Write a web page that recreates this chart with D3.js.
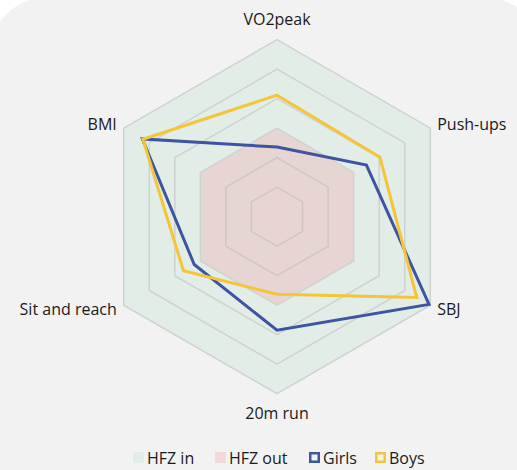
<!DOCTYPE html>
<html>
<head>
<meta charset="utf-8">
<script src="https://cdn.jsdelivr.net/npm/d3@7"></script>
<style>
  html, body { margin: 0; padding: 0; background: #fff; }
  svg { display: block; }
  text { font-family: "Open Sans", sans-serif; fill: #1a1a1a; }
</style>
</head>
<body>
<svg id="chart" width="517" height="470"></svg>
<script>
// axes, clockwise from the top
var axes = ["VO2peak", "Push-ups", "SBJ", "20m run", "Sit and reach", "BMI"];
var girls = [2.36, 3.5, 5.95, 3.85, 3.24, 5.27];
var boys = [4.12, 4.03, 5.47, 2.63, 3.66, 5.25];
var levels = [1, 2, 3, 4, 5, 6];
var hfzCut = 3;   // below this = out of healthy fitness zone
var maxVal = 6;

var legendItems = [
  {label: "HFZ in", type: "fill", color: "#e2ede7"},
  {label: "HFZ out", type: "fill", color: "#f3d8d9"},
  {label: "Girls", type: "line", color: "#3d55a0"},
  {label: "Boys", type: "line", color: "#f5c437"}
];

var svg = d3.select("#chart");
var cx = 277, cy = 216.7, R = 177;

// panel background, rounded corner top-left
svg.append("rect")
  .attr("x", -14).attr("y", -4)
  .attr("width", 560).attr("height", 500)
  .attr("rx", 66)
  .attr("fill", "#f2f2f2");

var r = d3.scaleLinear().domain([0, maxVal]).range([0, R]);
var angle = d3.scaleLinear().domain([0, axes.length]).range([0, 2 * Math.PI]);

function pt(i, v) {
  var a = angle(i);
  return [cx + r(v) * Math.sin(a), cy - r(v) * Math.cos(a)];
}
function ring(v) {
  return axes.map(function(d, i) { return pt(i, v); });
}
var line = d3.line().curve(d3.curveLinearClosed);

var g = svg.append("g");

// zones
g.append("path").attr("d", line(ring(maxVal))).attr("fill", "#e2ede7");
g.append("path").attr("d", line(ring(hfzCut))).attr("fill", "#e6d5d2");

// grid hexagons
g.selectAll(".grid")
  .data(levels)
  .enter().append("path")
    .attr("class", "grid")
    .attr("d", function(v) { return line(ring(v)); })
    .attr("fill", "none")
    .attr("stroke", function(v) { return v < hfzCut ? "#d2c6c1" : "#cfd3cf"; })
    .attr("stroke-width", 1.5);

// series
[[girls, "#3d55a0"], [boys, "#f5c437"]].forEach(function(s) {
  g.append("path")
    .attr("d", line(s[0].map(function(v, i) { return pt(i, v); })))
    .attr("fill", "none")
    .attr("stroke", s[1])
    .attr("stroke-width", 3)
    .attr("stroke-linejoin", "miter");
});

// axis labels
axes.forEach(function(name, i) {
  var a = angle(i), s = Math.sin(a), c = Math.cos(a);
  var off = Math.abs(s) < 0.01 ? 197 : 185;
  var x = cx + off * s, y = cy - off * c;
  svg.append("text")
    .attr("x", x).attr("y", y)
    .attr("text-anchor", Math.abs(s) < 0.01 ? "middle" : (s > 0 ? "start" : "end"))
    .attr("dy", "0.35em")
    .attr("font-size", 16)
    .text(name);
});

// legend
var lx = [133, 215, 309, 375];
var leg = svg.append("g");
legendItems.forEach(function(d, i) {
  var it = leg.append("g").attr("transform", "translate(" + lx[i] + ",452)");
  if (d.type == "fill") {
    it.append("rect").attr("width", 11).attr("height", 11).attr("fill", d.color);
  } else {
    it.append("rect").attr("x", 1.25).attr("y", 1.25).attr("width", 8.5).attr("height", 8.5)
      .attr("fill", "none").attr("stroke", d.color).attr("stroke-width", 2.5);
  }
  it.append("text").attr("x", 14).attr("y", 11.5).attr("font-size", 16).text(d.label);
});
</script>
</body>
</html>
